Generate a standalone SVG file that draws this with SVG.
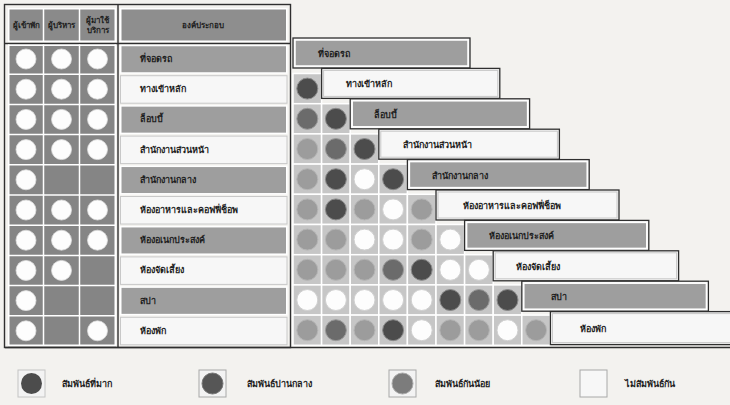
<svg xmlns="http://www.w3.org/2000/svg" width="730" height="405" viewBox="0 0 730 405">
<style>
text{font-family:"Noto Sans","DejaVu Sans",sans-serif;font-weight:bold;fill:#1e1e1e}
.lbl{font-size:9px}
.hd{font-size:8px;text-anchor:middle}
.cell{fill:#c6c6c6;stroke:#fff;stroke-width:1.5}
.D{fill:#4c4c4c;stroke:#8a8a8a;stroke-width:1}
.M{fill:#6b6b6b;stroke:#9a9a9a;stroke-width:1}
.L{fill:#9c9c9c;stroke:#b5b5b5;stroke-width:1}
.W{fill:#fdfdfd;stroke:#d0d0d0;stroke-width:1}
.wc{fill:#fdfdfd;stroke:#ddd;stroke-width:0.8}
.gbar{fill:#9e9e9e;stroke:#fff;stroke-width:1.5}
.wbar{fill:#f7f7f7;stroke:#c8c8c8;stroke-width:1}
.outer{fill:#f3f3f3;stroke:#2f2f2f;stroke-width:1.3}
.frame{fill:none;stroke:#2f2f2f;stroke-width:1.4}
</style>
<rect width="730" height="405" fill="#f3f2ef"/>

<g id="frame">
<rect class="frame" x="4.5" y="4.5" width="286" height="343"/>
<line x1="118" y1="5" x2="118" y2="347" stroke="#2f2f2f" stroke-width="1.4"/>
<line x1="5" y1="43.5" x2="290" y2="43.5" stroke="#2f2f2f" stroke-width="1.4"/>
<line x1="5" y1="347.5" x2="730" y2="347.5" stroke="#2f2f2f" stroke-width="1.6"/>
</g>

<g id="header">
<rect x="8" y="8" width="108" height="34" fill="#8a8a8a"/>
<line x1="43.5" y1="8" x2="43.5" y2="42" stroke="#fff" stroke-width="1.5"/>
<line x1="79.5" y1="8" x2="79.5" y2="42" stroke="#fff" stroke-width="1.5"/>
<rect x="8.75" y="8.75" width="106.5" height="32.5" fill="none" stroke="#fff" stroke-width="1.5"/>
<text class="hd" x="26" y="28">ผู้เข้าพัก</text>
<text class="hd" x="61.5" y="28">ผู้บริหาร</text>
<text class="hd" x="97.5" y="23">ผู้มาใช้</text>
<text class="hd" x="97.5" y="33">บริการ</text>
<rect x="120.75" y="8.75" width="166" height="32.5" fill="#8e8e8e" stroke="#fff" stroke-width="1.5"/>
<text class="hd" x="203" y="28">องค์ประกอบ</text>
</g>

<g id="left-table">
<rect x="8" y="44.5" width="108" height="302" fill="#858585"/>
<g stroke="#fff" stroke-width="1.5">
<line x1="43.5" y1="44.5" x2="43.5" y2="346"/>
<line x1="79.5" y1="44.5" x2="79.5" y2="346"/>
<line x1="8.75" y1="44.5" x2="8.75" y2="346"/>
<line x1="115.25" y1="44.5" x2="115.25" y2="346"/>
<line x1="8" y1="45.25" x2="116" y2="45.25"/>
<line x1="8" y1="74.2" x2="116" y2="74.2"/>
<line x1="8" y1="104.4" x2="116" y2="104.4"/>
<line x1="8" y1="134.6" x2="116" y2="134.6"/>
<line x1="8" y1="164.8" x2="116" y2="164.8"/>
<line x1="8" y1="195" x2="116" y2="195"/>
<line x1="8" y1="225.2" x2="116" y2="225.2"/>
<line x1="8" y1="255.4" x2="116" y2="255.4"/>
<line x1="8" y1="285.6" x2="116" y2="285.6"/>
<line x1="8" y1="315.8" x2="116" y2="315.8"/>
<line x1="8" y1="345.25" x2="116" y2="345.25"/>
</g>
<g class="wc">
<circle cx="26" cy="59" r="10"/><circle cx="61.5" cy="59" r="10"/><circle cx="97.5" cy="59" r="10"/>
<circle cx="26" cy="89.2" r="10"/><circle cx="61.5" cy="89.2" r="10"/><circle cx="97.5" cy="89.2" r="10"/>
<circle cx="26" cy="119.4" r="10"/><circle cx="61.5" cy="119.4" r="10"/><circle cx="97.5" cy="119.4" r="10"/>
<circle cx="26" cy="149.6" r="10"/><circle cx="61.5" cy="149.6" r="10"/><circle cx="97.5" cy="149.6" r="10"/>
<circle cx="26" cy="179.8" r="10"/>
<circle cx="26" cy="210" r="10"/><circle cx="61.5" cy="210" r="10"/><circle cx="97.5" cy="210" r="10"/>
<circle cx="26" cy="240.2" r="10"/><circle cx="61.5" cy="240.2" r="10"/><circle cx="97.5" cy="240.2" r="10"/>
<circle cx="26" cy="270.4" r="10"/><circle cx="61.5" cy="270.4" r="10"/>
<circle cx="26" cy="300.6" r="10"/>
<circle cx="26" cy="330.8" r="10"/><circle cx="97.5" cy="330.8" r="10"/>
</g>
</g>

<g id="labels">
<rect class="gbar" x="120.75" y="45.5" width="166" height="27.5"/>
<rect class="wbar" x="120.5" y="75.7" width="166.5" height="27.5"/>
<rect class="gbar" x="120.75" y="105.9" width="166" height="27.5"/>
<rect class="wbar" x="120.5" y="136.1" width="166.5" height="27.5"/>
<rect class="gbar" x="120.75" y="166.3" width="166" height="27.5"/>
<rect class="wbar" x="120.5" y="196.5" width="166.5" height="27.5"/>
<rect class="gbar" x="120.75" y="226.7" width="166" height="27.5"/>
<rect class="wbar" x="120.5" y="256.9" width="166.5" height="27.5"/>
<rect class="gbar" x="120.75" y="287.1" width="166" height="27.5"/>
<rect class="wbar" x="120.5" y="317.3" width="166.5" height="27.5"/>
<text class="lbl" x="140" y="62">ที่จอดรถ</text>
<text class="lbl" x="140" y="92.2">ทางเข้าหลัก</text>
<text class="lbl" x="140" y="122.4">ล็อบบี้</text>
<text class="lbl" x="140" y="152.6">สำนักงานส่วนหน้า</text>
<text class="lbl" x="140" y="182.8">สำนักงานกลาง</text>
<text class="lbl" x="140" y="213">ห้องอาหารและคอฟฟี่ช็อพ</text>
<text class="lbl" x="140" y="243.2">ห้องอเนกประสงค์</text>
<text class="lbl" x="140" y="273.4">ห้องจัดเลี้ยง</text>
<text class="lbl" x="140" y="303.6">สปา</text>
<text class="lbl" x="140" y="333.8">ห้องพัก</text>
</g>

<g id="matrix-cells">
<!-- row 2 -->
<rect class="cell" x="293" y="73.5" width="28.6" height="30.2"/>
<!-- row 3 -->
<rect class="cell" x="293" y="103.7" width="28.6" height="30.2"/><rect class="cell" x="321.6" y="103.7" width="28.6" height="30.2"/>
<!-- row 4 -->
<rect class="cell" x="293" y="133.9" width="28.6" height="30.2"/><rect class="cell" x="321.6" y="133.9" width="28.6" height="30.2"/><rect class="cell" x="350.2" y="133.9" width="28.6" height="30.2"/>
<!-- row 5 -->
<rect class="cell" x="293" y="164.1" width="28.6" height="30.2"/><rect class="cell" x="321.6" y="164.1" width="28.6" height="30.2"/><rect class="cell" x="350.2" y="164.1" width="28.6" height="30.2"/><rect class="cell" x="378.8" y="164.1" width="28.6" height="30.2"/>
<!-- row 6 -->
<rect class="cell" x="293" y="194.3" width="28.6" height="30.2"/><rect class="cell" x="321.6" y="194.3" width="28.6" height="30.2"/><rect class="cell" x="350.2" y="194.3" width="28.6" height="30.2"/><rect class="cell" x="378.8" y="194.3" width="28.6" height="30.2"/><rect class="cell" x="407.4" y="194.3" width="28.6" height="30.2"/>
<!-- row 7 -->
<rect class="cell" x="293" y="224.5" width="28.6" height="30.2"/><rect class="cell" x="321.6" y="224.5" width="28.6" height="30.2"/><rect class="cell" x="350.2" y="224.5" width="28.6" height="30.2"/><rect class="cell" x="378.8" y="224.5" width="28.6" height="30.2"/><rect class="cell" x="407.4" y="224.5" width="28.6" height="30.2"/><rect class="cell" x="436" y="224.5" width="28.6" height="30.2"/>
<!-- row 8 -->
<rect class="cell" x="293" y="254.7" width="28.6" height="30.2"/><rect class="cell" x="321.6" y="254.7" width="28.6" height="30.2"/><rect class="cell" x="350.2" y="254.7" width="28.6" height="30.2"/><rect class="cell" x="378.8" y="254.7" width="28.6" height="30.2"/><rect class="cell" x="407.4" y="254.7" width="28.6" height="30.2"/><rect class="cell" x="436" y="254.7" width="28.6" height="30.2"/><rect class="cell" x="464.6" y="254.7" width="28.6" height="30.2"/>
<!-- row 9 -->
<rect class="cell" x="293" y="284.9" width="28.6" height="30.2"/><rect class="cell" x="321.6" y="284.9" width="28.6" height="30.2"/><rect class="cell" x="350.2" y="284.9" width="28.6" height="30.2"/><rect class="cell" x="378.8" y="284.9" width="28.6" height="30.2"/><rect class="cell" x="407.4" y="284.9" width="28.6" height="30.2"/><rect class="cell" x="436" y="284.9" width="28.6" height="30.2"/><rect class="cell" x="464.6" y="284.9" width="28.6" height="30.2"/><rect class="cell" x="493.2" y="284.9" width="28.6" height="30.2"/>
<!-- row 10 -->
<rect class="cell" x="293" y="315.1" width="28.6" height="30.2"/><rect class="cell" x="321.6" y="315.1" width="28.6" height="30.2"/><rect class="cell" x="350.2" y="315.1" width="28.6" height="30.2"/><rect class="cell" x="378.8" y="315.1" width="28.6" height="30.2"/><rect class="cell" x="407.4" y="315.1" width="28.6" height="30.2"/><rect class="cell" x="436" y="315.1" width="28.6" height="30.2"/><rect class="cell" x="464.6" y="315.1" width="28.6" height="30.2"/><rect class="cell" x="493.2" y="315.1" width="28.6" height="30.2"/><rect class="cell" x="521.8" y="315.1" width="28.6" height="30.2"/>
</g>

<g id="matrix-circles">
<circle class="D" cx="307.3" cy="88.6" r="10.5"/>
<circle class="M" cx="307.3" cy="118.8" r="10.5"/><circle class="D" cx="335.9" cy="118.8" r="10.5"/>
<circle class="L" cx="307.3" cy="149" r="10.5"/><circle class="M" cx="335.9" cy="149" r="10.5"/><circle class="D" cx="364.5" cy="149" r="10.5"/>
<circle class="L" cx="307.3" cy="179.2" r="10.5"/><circle class="D" cx="335.9" cy="179.2" r="10.5"/><circle class="W" cx="364.5" cy="179.2" r="10.5"/><circle class="D" cx="393.1" cy="179.2" r="10.5"/>
<circle class="L" cx="307.3" cy="209.4" r="10.5"/><circle class="D" cx="335.9" cy="209.4" r="10.5"/><circle class="L" cx="364.5" cy="209.4" r="10.5"/><circle class="W" cx="393.1" cy="209.4" r="10.5"/><circle class="L" cx="421.7" cy="209.4" r="10.5"/>
<circle class="L" cx="307.3" cy="239.6" r="10.5"/><circle class="L" cx="335.9" cy="239.6" r="10.5"/><circle class="W" cx="364.5" cy="239.6" r="10.5"/><circle class="W" cx="393.1" cy="239.6" r="10.5"/><circle class="L" cx="421.7" cy="239.6" r="10.5"/><circle class="W" cx="450.3" cy="239.6" r="10.5"/>
<circle class="L" cx="307.3" cy="269.8" r="10.5"/><circle class="L" cx="335.9" cy="269.8" r="10.5"/><circle class="L" cx="364.5" cy="269.8" r="10.5"/><circle class="M" cx="393.1" cy="269.8" r="10.5"/><circle class="D" cx="421.7" cy="269.8" r="10.5"/><circle class="W" cx="450.3" cy="269.8" r="10.5"/><circle class="W" cx="478.9" cy="269.8" r="10.5"/>
<circle class="W" cx="307.3" cy="300" r="10.5"/><circle class="W" cx="335.9" cy="300" r="10.5"/><circle class="W" cx="364.5" cy="300" r="10.5"/><circle class="W" cx="393.1" cy="300" r="10.5"/><circle class="W" cx="421.7" cy="300" r="10.5"/><circle class="D" cx="450.3" cy="300" r="10.5"/><circle class="M" cx="478.9" cy="300" r="10.5"/><circle class="D" cx="507.5" cy="300" r="10.5"/>
<circle class="L" cx="307.3" cy="330.2" r="10.5"/><circle class="M" cx="335.9" cy="330.2" r="10.5"/><circle class="L" cx="364.5" cy="330.2" r="10.5"/><circle class="D" cx="393.1" cy="330.2" r="10.5"/><circle class="W" cx="421.7" cy="330.2" r="10.5"/><circle class="L" cx="450.3" cy="330.2" r="10.5"/><circle class="L" cx="478.9" cy="330.2" r="10.5"/><circle class="W" cx="507.5" cy="330.2" r="10.5"/><circle class="L" cx="536.1" cy="330.2" r="10.5"/>
</g>

<g id="bar-1"><rect class="outer" x="293" y="38" width="177" height="30"/><rect class="gbar" x="295" y="40" width="173" height="26"/><text class="lbl" x="318" y="57">ที่จอดรถ</text></g>
<g id="bar-2"><rect class="outer" x="321.6" y="68.4" width="178.2" height="30"/><rect class="wbar" x="323.6" y="70.4" width="174.2" height="26"/><text class="lbl" x="346" y="87.4">ทางเข้าหลัก</text></g>
<g id="bar-3"><rect class="outer" x="350.2" y="98.8" width="179.4" height="30"/><rect class="gbar" x="352.2" y="100.8" width="175.4" height="26"/><text class="lbl" x="374" y="117.8">ล็อบบี้</text></g>
<g id="bar-4"><rect class="outer" x="378.8" y="129.2" width="180.6" height="30"/><rect class="wbar" x="380.8" y="131.2" width="176.6" height="26"/><text class="lbl" x="403" y="148.2">สำนักงานส่วนหน้า</text></g>
<g id="bar-5"><rect class="outer" x="407.4" y="159.6" width="181.8" height="30"/><rect class="gbar" x="409.4" y="161.6" width="177.8" height="26"/><text class="lbl" x="432" y="178.6">สำนักงานกลาง</text></g>
<g id="bar-6"><rect class="outer" x="436" y="190" width="183" height="30"/><rect class="wbar" x="438" y="192" width="179" height="26"/><text class="lbl" x="463" y="209">ห้องอาหารและคอฟฟี่ช็อพ</text></g>
<g id="bar-7"><rect class="outer" x="464.6" y="220.4" width="184.2" height="30"/><rect class="gbar" x="466.6" y="222.4" width="180.2" height="26"/><text class="lbl" x="489" y="239.4">ห้องอเนกประสงค์</text></g>
<g id="bar-8"><rect class="outer" x="493.2" y="250.8" width="185.4" height="30"/><rect class="wbar" x="495.2" y="252.8" width="181.4" height="26"/><text class="lbl" x="516" y="269.8">ห้องจัดเลี้ยง</text></g>
<g id="bar-9"><rect class="outer" x="521.8" y="281.2" width="186.6" height="30"/><rect class="gbar" x="523.8" y="283.2" width="182.6" height="26"/><text class="lbl" x="551" y="300.2">สปา</text></g>
<g id="bar-10"><rect class="outer" x="550.4" y="311.6" width="190" height="33"/><rect class="wbar" x="552.4" y="313.6" width="186" height="29"/><text class="lbl" x="580" y="332">ห้องพัก</text></g>

<g id="legend">
<g id="legend-strong"><rect x="18" y="370" width="27" height="27" fill="#f3f3f3" stroke="#c4c4c4"/><circle cx="31.5" cy="383.5" r="10.5" fill="#4c4c4c"/><text class="lbl" x="62" y="387">สัมพันธ์ที่มาก</text></g>
<g id="legend-medium"><rect x="199" y="370" width="27" height="27" fill="#f3f3f3" stroke="#a8a8a8"/><circle cx="212.5" cy="383.5" r="10.5" fill="#565656" stroke="#777"/><text class="lbl" x="247" y="387">สัมพันธ์ปานกลาง</text></g>
<g id="legend-weak"><rect x="389" y="370" width="27" height="27" fill="#f3f3f3" stroke="#a8a8a8"/><circle cx="402.5" cy="383.5" r="10.5" fill="#7c7c7c" stroke="#aaa"/><text class="lbl" x="435" y="387">สัมพันธ์กันน้อย</text></g>
<g id="legend-none"><rect x="580" y="370" width="27" height="27" fill="#f7f7f7" stroke="#a8a8a8"/><text class="lbl" x="625" y="387">ไม่สัมพันธ์กัน</text></g>
</g>
</svg>
